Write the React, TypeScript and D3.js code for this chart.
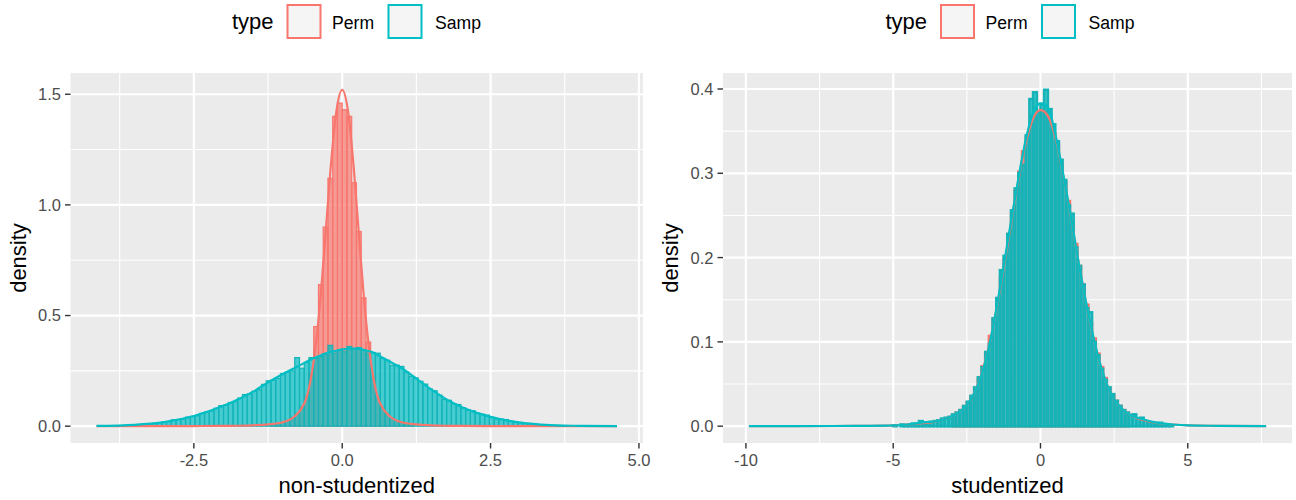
import * as d3 from "d3";

const PERM = "#F8766D";
const SAMP = "#00BFC4";
const SAMP_EDGE = "#15B3B7";
const FONT = "'Liberation Sans', Arial, Helvetica, sans-serif";

// ---- left panel: non-studentized ----
const leftBinWidth = 0.08;
const leftPermStart = -1.2;
const leftPermHist = [
  0.010, 0.013, 0.018, 0.026, 0.040, 0.058, 0.088, 0.135, 0.24, 0.45,
  0.64, 0.9, 1.12, 1.4, 1.46, 1.43, 1.4, 1.1, 0.88, 0.58,
  0.38, 0.22, 0.125, 0.082, 0.053, 0.038, 0.026, 0.017, 0.012, 0.009,
];
const leftSampStart = -3.52;
const leftSampHist = [
  0.006, 0.008, 0.009, 0.012, 0.013, 0.016, 0.019, 0.021, 0.029, 0.030,
  0.033, 0.041, 0.044, 0.047, 0.058, 0.064, 0.069, 0.081, 0.093, 0.096,
  0.107, 0.110, 0.127, 0.143, 0.146, 0.158, 0.165, 0.189, 0.205, 0.208,
  0.216, 0.238, 0.244, 0.250, 0.310, 0.262, 0.288, 0.310, 0.306, 0.315,
  0.327, 0.365, 0.330, 0.344, 0.336, 0.360, 0.349, 0.355, 0.346, 0.330,
  0.333, 0.330, 0.306, 0.298, 0.275, 0.276, 0.270, 0.245, 0.225, 0.218,
  0.203, 0.190, 0.168, 0.160, 0.140, 0.121, 0.117, 0.102, 0.098, 0.083,
  0.074, 0.070, 0.059, 0.054, 0.050, 0.040, 0.033, 0.032, 0.030, 0.022,
  0.019, 0.017, 0.013, 0.012, 0.010, 0.007, 0.007, 0.005, 0.004, 0.004,
  0.003, 0.002, 0.002,
];
const leftDensX = [
  -4.14, -3.5, -3.0, -2.5, -2.0, -1.75, -1.5, -1.25, -1.0, -0.8, -0.7, -0.6,
  -0.5, -0.4, -0.3, -0.2, -0.1, 0, 0.1, 0.2, 0.3, 0.4, 0.5, 0.6, 0.7, 0.8,
  1.0, 1.25, 1.5, 1.75, 2.0, 2.5, 3.0, 3.5, 4.0, 4.63,
];
const leftPermDens = [
  0, 0.0002, 0.0004, 0.0007, 0.001, 0.002, 0.004, 0.008, 0.018, 0.045, 0.075, 0.13,
  0.26, 0.48, 0.8, 1.15, 1.42, 1.52, 1.42, 1.15, 0.8, 0.48, 0.26, 0.13, 0.075, 0.045,
  0.018, 0.008, 0.004, 0.002, 0.001, 0.0006, 0.0003, 0.0002, 0.0001, 0,
];
const leftSampDens = [
  0.001, 0.006, 0.018, 0.046, 0.092, 0.122, 0.156, 0.198, 0.236, 0.263, 0.277, 0.291,
  0.305, 0.316, 0.327, 0.335, 0.341, 0.347, 0.349, 0.351, 0.349, 0.342, 0.335, 0.321, 0.307, 0.292,
  0.262, 0.215, 0.166, 0.122, 0.088, 0.042, 0.016, 0.005, 0.0015, 0,
];
const leftXTicks = [-2.5, 0, 2.5, 5];
const leftXLabels = ["-2.5", "0.0", "2.5", "5.0"];
const leftYTicks = [0, 0.5, 1, 1.5];
const leftYLabels = ["0.0", "0.5", "1.0", "1.5"];

// ---- right panel: studentized ----
const rightBinWidth = 0.125;
const rightPermStart = -3.0;
const rightPermHist = [
  0.013, 0.016, 0.019, 0.023, 0.028, 0.035, 0.045, 0.056, 0.071, 0.087,
  0.107, 0.127, 0.151, 0.176, 0.199, 0.228, 0.252, 0.280, 0.302, 0.326,
  0.343, 0.357, 0.368, 0.372, 0.374, 0.370, 0.362, 0.348, 0.334, 0.311,
  0.289, 0.267, 0.240, 0.216, 0.190, 0.168, 0.144, 0.122, 0.104, 0.086,
  0.070, 0.057, 0.045, 0.037, 0.030, 0.024, 0.019, 0.016,
];
const rightSampStart = -5.0;
const rightSampHist = [
  0.001, 0.000, 0.002, 0.001, 0.002, 0.003, 0.002, 0.006, 0.003, 0.004,
  0.005, 0.006, 0.007, 0.009, 0.010, 0.011, 0.014, 0.016, 0.019, 0.024,
  0.029, 0.036, 0.046, 0.058, 0.070, 0.088, 0.098, 0.128, 0.152, 0.185,
  0.202, 0.228, 0.256, 0.282, 0.300, 0.310, 0.345, 0.388, 0.396, 0.372,
  0.382, 0.399, 0.376, 0.358, 0.338, 0.316, 0.292, 0.262, 0.252, 0.212,
  0.190, 0.168, 0.140, 0.135, 0.100, 0.084, 0.068, 0.055, 0.046, 0.038,
  0.030, 0.024, 0.019, 0.016, 0.013, 0.014, 0.009, 0.010, 0.006, 0.005,
  0.004, 0.003, 0.004, 0.002, 0.002, 0.001,
];
const rightDensX = [
  -9.9, -7, -6, -5, -4.5, -4, -3.5, -3, -2.75, -2.5, -2.25, -2, -1.75, -1.5,
  -1.25, -1, -0.75, -0.5, -0.25, 0, 0.25, 0.5, 0.75, 1, 1.25, 1.5, 1.75, 2,
  2.25, 2.5, 2.75, 3, 3.5, 4, 4.5, 5, 6, 7.66,
];
const rightPermDens = [
  0, 0.0002, 0.0004, 0.001, 0.002, 0.0035, 0.006, 0.012, 0.017, 0.025, 0.039, 0.062, 0.095, 0.138,
  0.187, 0.24, 0.292, 0.336, 0.365, 0.375, 0.368, 0.343, 0.302, 0.254, 0.203, 0.155, 0.112, 0.077,
  0.05, 0.032, 0.021, 0.014, 0.007, 0.0035, 0.002, 0.001, 0.0004, 0,
];
const rightSampDens = [
  0, 0.0002, 0.0004, 0.001, 0.002, 0.0045, 0.006, 0.012, 0.017, 0.025, 0.039, 0.061, 0.094, 0.139,
  0.19, 0.243, 0.294, 0.34, 0.372, 0.383, 0.378, 0.347, 0.303, 0.255, 0.203, 0.155, 0.113, 0.077,
  0.05, 0.032, 0.021, 0.014, 0.008, 0.004, 0.002, 0.001, 0.0004, 0,
];
const rightXTicks = [-10, -5, 0, 5];
const rightXLabels = ["-10", "-5", "0", "5"];
const rightYTicks = [0, 0.1, 0.2, 0.3, 0.4];
const rightYLabels = ["0.0", "0.1", "0.2", "0.3", "0.4"];

type PanelProps = {
  id: string;
  left: number;
  right: number;
  top: number;
  bottom: number;
  xData: [number, number];
  yMax: number;
  binWidth: number;
  barEdge: number;
  permStart: number;
  permHist: number[];
  sampStart: number;
  sampHist: number[];
  densX: number[];
  permDens: number[];
  sampDens: number[];
  xTicks: number[];
  xLabels: string[];
  yTicks: number[];
  yLabels: string[];
  xTitle: string;
  yTitleX: number;
  legendCenter: number;
};

function minorBreaks(ticks: number[], domain: number[]) {
  const step = ticks[1] - ticks[0];
  const out = [ticks[0] - step / 2, ...ticks.map((t) => t + step / 2)];
  return out.filter((v) => v > domain[0] && v < domain[1]);
}

function Panel(p: PanelProps) {
  const padX = (p.xData[1] - p.xData[0]) * 0.05;
  const x = d3
    .scaleLinear()
    .domain([p.xData[0] - padX, p.xData[1] + padX])
    .range([p.left, p.right]);
  const y = d3
    .scaleLinear()
    .domain([-p.yMax * 0.05, p.yMax * 1.05])
    .range([p.bottom, p.top]);

  const xMinor = minorBreaks(p.xTicks, x.domain());
  const yMinor = minorBreaks(p.yTicks, y.domain());

  const line = d3
    .line<number>()
    .x((_, i) => x(p.densX[i]))
    .y((d) => y(d))
    .curve(d3.curveMonotoneX);

  const bars = (start: number, hist: number[], color: string, edge: string, key: string) =>
    hist.map((h, i) => {
      const x0 = x(start + i * p.binWidth);
      const x1 = x(start + (i + 1) * p.binWidth);
      return (
        <rect
          key={key + i}
          x={x0}
          y={y(h)}
          width={x1 - x0}
          height={y(0) - y(h)}
          fill={color}
          fillOpacity={0.7}
          stroke={edge}
          strokeWidth={p.barEdge}
        />
      );
    });

  const cx = p.legendCenter;
  const midY = (p.top + p.bottom) / 2;

  return (
    <g>
      <defs>
        <clipPath id={p.id}>
          <rect x={p.left} y={p.top} width={p.right - p.left} height={p.bottom - p.top} />
        </clipPath>
      </defs>
      <rect x={p.left} y={p.top} width={p.right - p.left} height={p.bottom - p.top} fill="#EBEBEB" />
      <g clipPath={`url(#${p.id})`}>
        {xMinor.map((v) => (
          <line key={"xm" + v} x1={x(v)} x2={x(v)} y1={p.top} y2={p.bottom} stroke="#fff" strokeWidth={1.1} />
        ))}
        {yMinor.map((v) => (
          <line key={"ym" + v} x1={p.left} x2={p.right} y1={y(v)} y2={y(v)} stroke="#fff" strokeWidth={1.1} />
        ))}
        {p.xTicks.map((v) => (
          <line key={"xM" + v} x1={x(v)} x2={x(v)} y1={p.top} y2={p.bottom} stroke="#fff" strokeWidth={2.2} />
        ))}
        {p.yTicks.map((v) => (
          <line key={"yM" + v} x1={p.left} x2={p.right} y1={y(v)} y2={y(v)} stroke="#fff" strokeWidth={2.2} />
        ))}
        {bars(p.permStart, p.permHist, PERM, PERM, "p")}
        {bars(p.sampStart, p.sampHist, SAMP, SAMP_EDGE, "s")}
        <path d={line(p.permDens) ?? ""} fill="none" stroke={PERM} strokeWidth={2.2} />
        <path d={line(p.sampDens) ?? ""} fill="none" stroke={SAMP} strokeWidth={2.2} />
      </g>

      {/* axes */}
      {p.xTicks.map((v, i) => (
        <g key={"xt" + v}>
          <line x1={x(v)} x2={x(v)} y1={p.bottom} y2={p.bottom + 5.5} stroke="#333" strokeWidth={1.4} />
          <text x={x(v)} y={p.bottom + 23} textAnchor="middle" fontSize={16.5} fill="#4D4D4D">
            {p.xLabels[i]}
          </text>
        </g>
      ))}
      {p.yTicks.map((v, i) => (
        <g key={"yt" + v}>
          <line x1={p.left - 5.5} x2={p.left} y1={y(v)} y2={y(v)} stroke="#333" strokeWidth={1.4} />
          <text x={p.left - 9.5} y={y(v)} dy="0.36em" textAnchor="end" fontSize={16.5} fill="#4D4D4D">
            {p.yLabels[i]}
          </text>
        </g>
      ))}
      <text x={(p.left + p.right) / 2} y={493} textAnchor="middle" fontSize={22} fill="#000">
        {p.xTitle}
      </text>
      <text
        transform={`translate(${p.yTitleX},${midY}) rotate(-90)`}
        textAnchor="middle"
        fontSize={22}
        fill="#000"
      >
        density
      </text>

      {/* legend */}
      <text x={cx - 124.5} y={29} fontSize={22} fill="#000">
        type
      </text>
      <rect x={cx - 69} y={5} width={33} height={33} fill="#F5F5F5" stroke={PERM} strokeWidth={2} />
      <text x={cx - 24.5} y={29} fontSize={17.6} fill="#000">
        Perm
      </text>
      <rect x={cx + 32} y={5} width={33} height={33} fill="#F5F5F5" stroke={SAMP} strokeWidth={2} />
      <text x={cx + 78.5} y={29} fontSize={17.6} fill="#000">
        Samp
      </text>
    </g>
  );
}

export default function App() {
  return (
    <svg
      width={1296}
      height={500}
      style={{ position: "absolute", left: 0, top: 0, background: "#fff", fontFamily: FONT }}
    >
      <Panel
        id="clipLeft"
        left={70.5}
        right={643}
        top={73}
        bottom={443}
        xData={[-4.14, 4.63]}
        yMax={1.52}
        binWidth={leftBinWidth}
        barEdge={1.2}
        permStart={leftPermStart}
        permHist={leftPermHist}
        sampStart={leftSampStart}
        sampHist={leftSampHist}
        densX={leftDensX}
        permDens={leftPermDens}
        sampDens={leftSampDens}
        xTicks={leftXTicks}
        xLabels={leftXLabels}
        yTicks={leftYTicks}
        yLabels={leftYLabels}
        xTitle="non-studentized"
        yTitleX={26}
        legendCenter={356.5}
      />
      <Panel
        id="clipRight"
        left={723}
        right={1292}
        top={73}
        bottom={443}
        xData={[-9.9, 7.66]}
        yMax={0.399}
        binWidth={rightBinWidth}
        barEdge={2.6}
        permStart={rightPermStart}
        permHist={rightPermHist}
        sampStart={rightSampStart}
        sampHist={rightSampHist}
        densX={rightDensX}
        permDens={rightPermDens}
        sampDens={rightSampDens}
        xTicks={rightXTicks}
        xLabels={rightXLabels}
        yTicks={rightYTicks}
        yLabels={rightYLabels}
        xTitle="studentized"
        yTitleX={678}
        legendCenter={1010}
      />
    </svg>
  );
}
